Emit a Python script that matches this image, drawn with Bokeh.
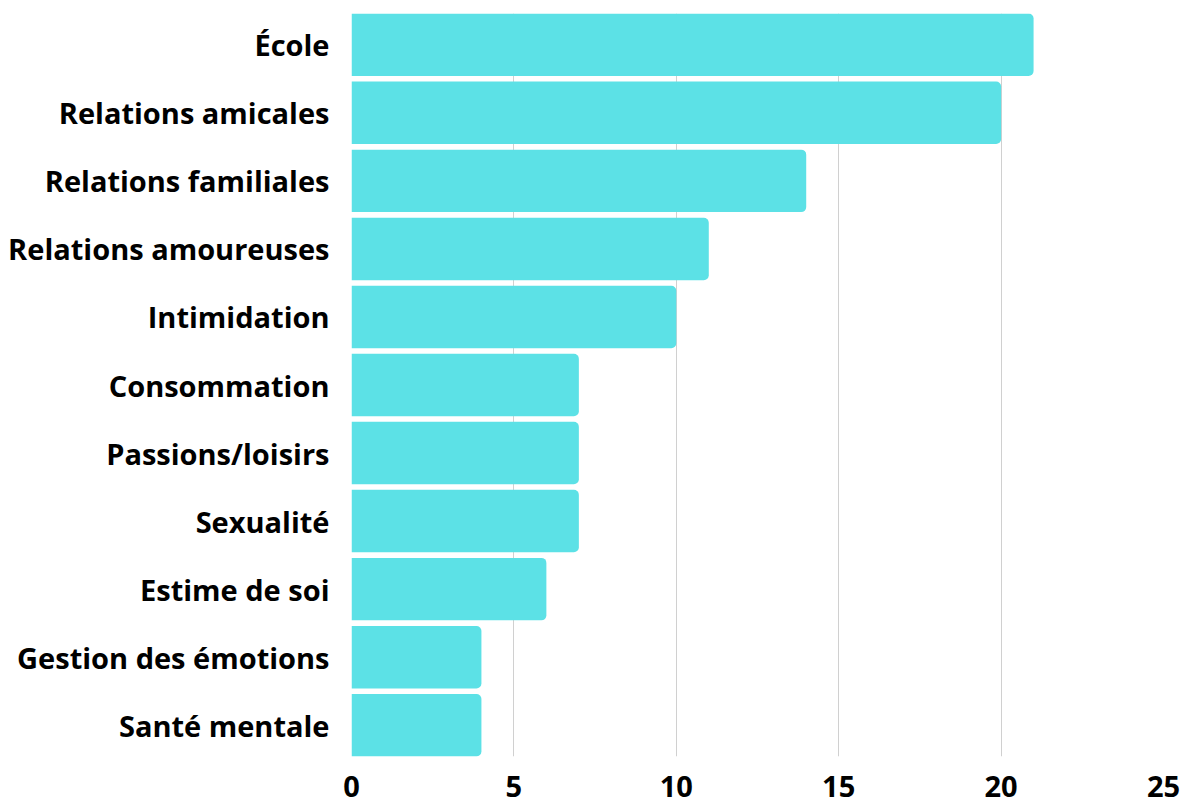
from bokeh.plotting import figure
from bokeh.models import FactorRange, Range1d, FixedTicker, ColumnDataSource
from bokeh.embed import file_html
from bokeh.resources import INLINE

categories = ["École", "Relations amicales", "Relations familiales", "Relations amoureuses",
              "Intimidation", "Consommation", "Passions/loisirs", "Sexualité",
              "Estime de soi", "Gestion des émotions", "Santé mentale"]
values = [21, 20, 14, 11, 10, 7, 7, 7, 6, 4, 4]
x_ticks = [0, 5, 10, 15, 20, 25]

src = ColumnDataSource(dict(cat=categories, val=values))

yr = FactorRange(factors=list(reversed(categories)), range_padding=-0.04,
                 range_padding_units="absolute")

p = figure(width=1182, height=799, y_range=yr, x_range=Range1d(0, 25),
           output_backend="svg", toolbar_location=None,
           min_border_left=351, min_border_right=19, min_border_top=13, min_border_bottom=43)
p.outline_line_color = None
p.hbar(y="cat", right="val", left=0, height=0.918, source=src,
       fill_color="#5CE1E6", line_color=None, border_radius=[0, 5, 5, 0])

p.xaxis.ticker = FixedTicker(ticks=x_ticks)
p.xgrid.ticker = FixedTicker(ticks=x_ticks)
p.xgrid.grid_line_color = "#d0d0d0"
p.xgrid.grid_line_width = 1
p.ygrid.grid_line_color = None

for ax in (p.xaxis[0], p.yaxis[0]):
    ax.axis_line_color = None
    ax.major_tick_line_color = None
    ax.minor_tick_line_color = None
    ax.major_label_text_font = "Open Sans"
    ax.major_label_text_font_style = "bold"
    ax.major_label_text_color = "#000000"

p.yaxis.major_label_text_font_size = "29px"
p.xaxis.major_label_text_font_size = "29px"
p.xaxis.major_label_standoff = 13
p.yaxis.major_label_standoff = 16

open("out.html", "w").write(file_html(p, INLINE))
